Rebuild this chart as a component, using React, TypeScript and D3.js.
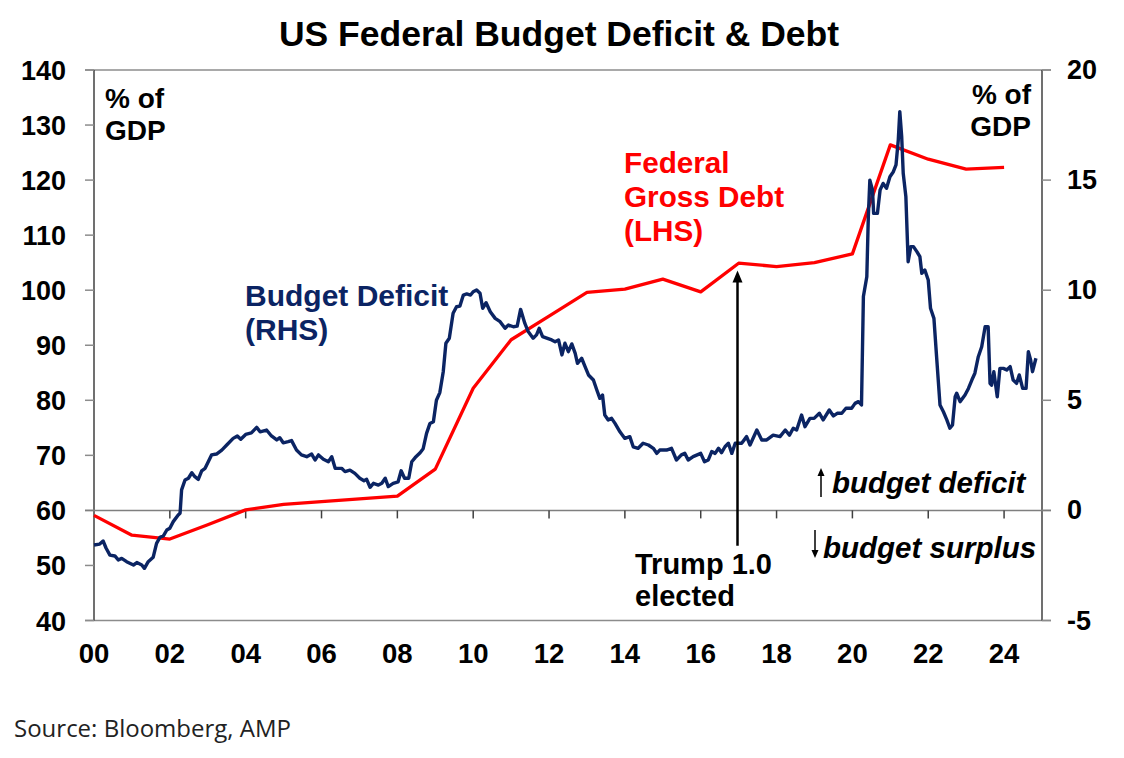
import * as React from "react";
import * as d3 from "d3";

// ---- data ----
const xTickLabels = ["00", "02", "04", "06", "08", "10", "12", "14", "16", "18", "20", "22", "24"];
const leftTicks = [40, 50, 60, 70, 80, 90, 100, 110, 120, 130, 140];
const rightTicks = [-5, 0, 5, 10, 15, 20];

// Federal gross debt, % of GDP (LHS), annual
const debtYears = [2000, 2001, 2002, 2003, 2004, 2005, 2006, 2007, 2008, 2009, 2010, 2011, 2012,
  2013, 2014, 2015, 2016, 2017, 2018, 2019, 2020, 2021, 2022, 2023, 2024];
const debtValues = [59.1, 55.5, 54.8, 57.4, 60.1, 61.1, 61.6, 62.1, 62.6, 67.5, 82.2, 91.0, 95.3,
  99.6, 100.2, 102.0, 99.7, 104.9, 104.3, 105.0, 106.6, 126.4, 123.8, 122.0, 122.3];

// Budget deficit, % of GDP (RHS), rolling monthly
const deficitSeries: [number, number][] = [
  [2000.0, -1.57], [2000.15, -1.53], [2000.24, -1.39], [2000.32, -1.72], [2000.42, -2.03],
  [2000.55, -2.07], [2000.64, -2.25], [2000.73, -2.18], [2000.86, -2.33], [2001.04, -2.48],
  [2001.13, -2.37], [2001.26, -2.48], [2001.33, -2.63], [2001.43, -2.33], [2001.56, -2.13],
  [2001.65, -1.5], [2001.74, -1.22], [2001.83, -1.16], [2001.92, -0.89], [2002.0, -0.81],
  [2002.09, -0.51], [2002.22, -0.21], [2002.27, -0.13], [2002.31, 0.93], [2002.4, 1.38],
  [2002.49, 1.46], [2002.58, 1.71], [2002.66, 1.53], [2002.75, 1.41], [2002.84, 1.8],
  [2002.93, 1.91], [2003.1, 2.52], [2003.23, 2.56], [2003.37, 2.74], [2003.5, 2.97],
  [2003.67, 3.27], [2003.78, 3.38], [2003.87, 3.23], [2004.0, 3.45], [2004.15, 3.52],
  [2004.29, 3.77], [2004.38, 3.57], [2004.55, 3.65], [2004.68, 3.38], [2004.82, 3.2],
  [2004.9, 3.3], [2004.99, 3.07], [2005.12, 3.12], [2005.21, 3.17], [2005.34, 2.74],
  [2005.47, 2.52], [2005.61, 2.44], [2005.74, 2.56], [2005.83, 2.29], [2005.92, 2.52],
  [2006.05, 2.32], [2006.18, 2.21], [2006.27, 2.44], [2006.36, 1.91], [2006.53, 1.91],
  [2006.62, 1.76], [2006.75, 1.83], [2006.88, 1.68], [2007.01, 1.46], [2007.12, 1.35],
  [2007.19, 1.41], [2007.28, 1.05], [2007.37, 1.23], [2007.5, 1.15], [2007.59, 1.23],
  [2007.68, 1.46], [2007.76, 1.08], [2007.89, 1.23], [2008.02, 1.3], [2008.1, 1.8],
  [2008.19, 1.46], [2008.3, 1.46], [2008.38, 2.21], [2008.47, 2.4], [2008.6, 2.62],
  [2008.68, 2.8], [2008.77, 3.5], [2008.86, 3.95], [2008.95, 4.03], [2009.03, 5.0],
  [2009.12, 5.35], [2009.21, 6.3], [2009.28, 7.59], [2009.37, 7.82], [2009.47, 8.95],
  [2009.56, 9.25], [2009.65, 9.28], [2009.74, 9.78], [2009.83, 9.83], [2009.93, 9.78],
  [2010.0, 9.93], [2010.09, 10.01], [2010.18, 9.86], [2010.25, 9.18], [2010.34, 9.43],
  [2010.45, 9.02], [2010.58, 8.72], [2010.71, 8.57], [2010.84, 8.27], [2010.93, 8.42],
  [2011.06, 8.34], [2011.16, 8.37], [2011.25, 9.13], [2011.36, 8.5], [2011.45, 8.12],
  [2011.58, 7.82], [2011.67, 7.97], [2011.74, 8.27], [2011.83, 7.89], [2011.94, 7.82],
  [2012.07, 7.74], [2012.16, 7.66], [2012.25, 7.74], [2012.34, 7.06], [2012.42, 7.59],
  [2012.51, 7.21], [2012.6, 7.56], [2012.69, 7.13], [2012.75, 6.68], [2012.86, 6.91],
  [2012.95, 6.53], [2013.04, 6.15], [2013.17, 5.92], [2013.26, 5.47], [2013.34, 5.09],
  [2013.41, 5.24], [2013.47, 4.33], [2013.56, 4.11], [2013.65, 4.18], [2013.74, 3.95],
  [2013.87, 3.57], [2014.0, 3.27], [2014.13, 3.35], [2014.22, 2.89], [2014.35, 2.82],
  [2014.48, 3.05], [2014.62, 2.97], [2014.75, 2.82], [2014.84, 2.59], [2014.92, 2.74],
  [2015.1, 2.74], [2015.23, 2.82], [2015.36, 2.29], [2015.49, 2.52], [2015.58, 2.59],
  [2015.67, 2.29], [2015.8, 2.44], [2016.0, 2.59], [2016.1, 2.21], [2016.2, 2.29],
  [2016.29, 2.67], [2016.38, 2.59], [2016.47, 2.82], [2016.55, 2.62], [2016.64, 2.89],
  [2016.73, 3.05], [2016.82, 2.59], [2016.91, 3.05], [2017.08, 3.05], [2017.21, 3.35],
  [2017.3, 2.97], [2017.48, 3.65], [2017.61, 3.2], [2017.74, 3.2], [2017.91, 3.42],
  [2018.09, 3.35], [2018.23, 3.65], [2018.34, 3.42], [2018.44, 3.73], [2018.53, 3.65],
  [2018.66, 4.33], [2018.75, 3.8], [2018.88, 4.18], [2018.99, 4.18], [2019.13, 4.41],
  [2019.23, 4.11], [2019.39, 4.56], [2019.5, 4.29], [2019.6, 4.41], [2019.72, 4.41],
  [2019.83, 4.64], [2019.98, 4.64], [2020.07, 4.86], [2020.16, 4.94], [2020.24, 4.79],
  [2020.29, 9.71], [2020.38, 10.61], [2020.42, 13.34], [2020.46, 15.0], [2020.53, 14.55],
  [2020.56, 13.49], [2020.66, 13.49], [2020.73, 14.55], [2020.81, 14.85], [2020.9, 14.63],
  [2020.99, 15.15], [2021.08, 15.38], [2021.15, 15.69], [2021.21, 16.82], [2021.25, 18.11],
  [2021.3, 16.97], [2021.34, 15.31], [2021.41, 14.25], [2021.47, 11.29], [2021.54, 11.98],
  [2021.61, 11.98], [2021.7, 11.75], [2021.78, 11.52], [2021.83, 10.77], [2021.91, 10.92],
  [2022.0, 10.46], [2022.06, 9.18], [2022.15, 8.72], [2022.22, 6.98], [2022.31, 4.79],
  [2022.4, 4.48], [2022.49, 4.11], [2022.57, 3.73], [2022.64, 3.88], [2022.71, 5.16],
  [2022.75, 5.32], [2022.84, 4.94], [2022.97, 5.24], [2023.06, 5.54], [2023.15, 5.92],
  [2023.23, 6.23], [2023.32, 6.98], [2023.41, 7.43], [2023.5, 8.34], [2023.58, 8.34],
  [2023.63, 5.77], [2023.67, 5.69], [2023.73, 6.3], [2023.82, 5.16], [2023.89, 6.45],
  [2023.98, 6.45], [2024.07, 6.38], [2024.16, 6.53], [2024.24, 5.92], [2024.33, 5.77],
  [2024.4, 6.15], [2024.49, 5.54], [2024.58, 5.54], [2024.64, 7.21], [2024.7, 6.83],
  [2024.75, 6.3], [2024.84, 6.91],
];

const trumpElected = 2016.97;

const NAVY = "#0b2463";
const RED = "#ff0000";
const FONT = "'Liberation Sans', Arial, sans-serif";

export default function App() {
  const width = 1124,
    height = 758;

  const x = d3.scaleLinear().domain([2000, 2025]).range([94, 1042]);
  const yL = d3.scaleLinear().domain([40, 140]).range([620.5, 70]);
  const yR = d3.scaleLinear().domain([-5, 20]).range([620.5, 70]);

  const debtLine = d3
    .line<number>()
    .x((d, i) => x(debtYears[i]))
    .y(d => yL(d))(debtValues);

  const deficitLine = d3
    .line<[number, number]>()
    .x(d => x(d[0]))
    .y(d => yR(d[1]))(deficitSeries);

  const x0 = x.range()[0],
    x1 = x.range()[1];
  const tickYears = xTickLabels.map((_, i) => 2000 + i * 2);

  // trump arrow
  const ax = x(trumpElected);
  const aTop = yL(103.6);
  const aBottom = yR(-1.6);

  return (
    <svg
      width={width}
      height={height}
      style={{ position: "absolute", left: 0, top: 0, background: "#fff" }}
      fontFamily={FONT}
    >
      <text x={559} y={46} textAnchor="middle" fontSize={35.5} fontWeight="bold">
        US Federal Budget Deficit &amp; Debt
      </text>

      {/* top / bottom border lines */}
      <line x1={x0 - 9} x2={x1 + 9} y1={yL(140)} y2={yL(140)} stroke="#8c8c8c" strokeWidth={1.5} />
      <line x1={x0 - 9} x2={x1 + 9} y1={yL(40)} y2={yL(40)} stroke="#8c8c8c" strokeWidth={1.5} />

      {/* left axis */}
      <line x1={x0} x2={x0} y1={yL(140)} y2={yL(40)} stroke="#404040" strokeWidth={1.5} />
      {leftTicks.map(t => (
        <g key={"l" + t}>
          <line x1={x0 - 9} x2={x0} y1={yL(t)} y2={yL(t)} stroke="#8c8c8c" strokeWidth={1.5} />
          <text x={66} y={yL(t) + 10} textAnchor="end" fontSize={27} fontWeight="bold">
            {t}
          </text>
        </g>
      ))}

      {/* right axis */}
      <line x1={x1} x2={x1} y1={yR(20)} y2={yR(-5)} stroke="#404040" strokeWidth={1.5} />
      {rightTicks.map(t => (
        <g key={"r" + t}>
          <line x1={x1} x2={x1 + 9} y1={yR(t)} y2={yR(t)} stroke="#8c8c8c" strokeWidth={1.5} />
          <text x={1067} y={yR(t) + 9} fontSize={27} fontWeight="bold">
            {t}
          </text>
        </g>
      ))}

      {/* zero line with year ticks */}
      <line x1={x0 - 9} x2={x1 + 9} y1={yR(0)} y2={yR(0)} stroke="#7f7f7f" strokeWidth={1.5} />
      {tickYears.map((yr, i) => (
        <g key={"x" + yr}>
          {i > 0 && (
            <line x1={x(yr)} x2={x(yr)} y1={yR(0)} y2={yR(0) + 8} stroke="#404040" strokeWidth={1.5} />
          )}
          <text x={x(yr)} y={663} textAnchor="middle" fontSize={27.5} fontWeight="bold">
            {xTickLabels[i]}
          </text>
        </g>
      ))}

      {/* axis unit labels */}
      <text x={105} y={108} fontSize={28} fontWeight="bold">% of</text>
      <text x={105} y={140} fontSize={28} fontWeight="bold">GDP</text>
      <text x={1031} y={104} fontSize={28} fontWeight="bold" textAnchor="end">% of</text>
      <text x={1031} y={136} fontSize={28} fontWeight="bold" textAnchor="end">GDP</text>

      {/* series */}
      <path d={debtLine ?? ""} fill="none" stroke={RED} strokeWidth={3.3} strokeLinejoin="round" />
      <path d={deficitLine ?? ""} fill="none" stroke={NAVY} strokeWidth={3.4} strokeLinejoin="round" />

      {/* series labels */}
      <text x={245} y={306} fontSize={30} fontWeight="bold" fill={NAVY}>Budget Deficit</text>
      <text x={245} y={340} fontSize={30} fontWeight="bold" fill={NAVY}>(RHS)</text>
      <text x={624} y={173} fontSize={29.7} fontWeight="bold" fill={RED}>Federal</text>
      <text x={624} y={207} fontSize={29.7} fontWeight="bold" fill={RED}>Gross Debt</text>
      <text x={624} y={241} fontSize={29.7} fontWeight="bold" fill={RED}>(LHS)</text>

      {/* Trump annotation */}
      <line x1={ax} x2={ax} y1={aBottom} y2={aTop + 10} stroke="#000" strokeWidth={2.5} />
      <polygon points={`${ax},${aTop} ${ax - 5},${aTop + 12} ${ax + 5},${aTop + 12}`} fill="#000" />
      <text x={635} y={574} fontSize={29} fontWeight="bold">Trump 1.0</text>
      <text x={635} y={606} fontSize={29} fontWeight="bold">elected</text>

      {/* deficit / surplus hints */}
      <line x1={821} x2={821} y1={497} y2={474} stroke="#000" strokeWidth={1.5} />
      <polygon points="821,468 817.5,476 824.5,476" fill="#000" />
      <text x={832} y={493} fontSize={29.5} fontWeight="bold" fontStyle="italic">budget deficit</text>
      <line x1={815} x2={815} y1={530} y2={552} stroke="#000" strokeWidth={1.5} />
      <polygon points="815,558 811.5,550 818.5,550" fill="#000" />
      <text x={823} y={558} fontSize={29.5} fontWeight="bold" fontStyle="italic">budget surplus</text>

      <text x={14} y={737} fontSize={24} fontFamily="'Open Sans', sans-serif" fill="#222">
        Source: Bloomberg, AMP
      </text>
    </svg>
  );
}
